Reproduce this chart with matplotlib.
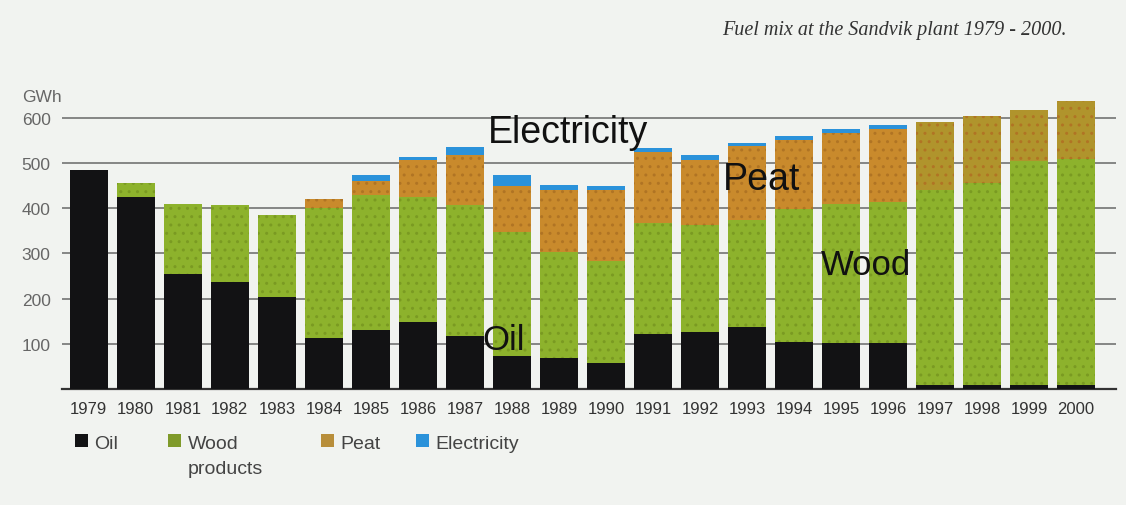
import matplotlib
matplotlib.use("Agg")
import matplotlib.pyplot as plt
from matplotlib.patches import Patch
import numpy as np

years = [str(y) for y in range(1979, 2001)]
oil = [484, 425, 255, 236, 204, 114, 131, 149, 118, 74, 69, 58,
       121, 126, 137, 105, 101, 102, 8, 8, 8, 8]
wood = [0, 30, 155, 172, 181, 286, 299, 277, 290, 274, 234, 225,
        246, 237, 238, 293, 309, 312, 432, 447, 497, 502]
peat = [0, 0, 0, 0, 0, 20, 30, 80, 109, 102, 138, 157,
        157, 144, 164, 153, 156, 162, 151, 150, 113, 127]
electricity = [0, 0, 0, 0, 0, 0, 14, 7, 19, 24, 11, 10,
               9, 10, 6, 9, 9, 9, 0, 0, 0, 0]
yticks = [100, 200, 300, 400, 500, 600]
legend_labels = ['Oil', 'Wood', 'Peat', 'Electricity']
title = "Fuel mix at the Sandvik plant 1979 - 2000."

SANS = ['Liberation Sans', 'DejaVu Sans']

bg = '#f1f3f0'
c_oil = '#121214'
c_wood = '#8db22c'
c_peat = '#c98a2c'
c_peat_late = '#b0942c'
c_elec = '#2b92da'

fig = plt.figure(figsize=(11.26, 5.06), dpi=100, facecolor=bg)
ax = fig.add_axes([62/1126, 1-390/506, 1054/1126, (650*0.4517)/506])
ax.set_facecolor(bg)

x = np.arange(len(years))
oil_a = np.array(oil); wood_a = np.array(wood); peat_a = np.array(peat); el_a = np.array(electricity)
w = 0.82
peat_colors = [c_peat if int(y) < 1997 else c_peat_late for y in years]

ax.bar(x, oil_a, w, color=c_oil, zorder=3)
ax.bar(x, wood_a, w, bottom=oil_a, color=c_wood, zorder=3,
       hatch='..', edgecolor='#7a9a22', linewidth=0)
ax.bar(x, peat_a, w, bottom=oil_a + wood_a, color=peat_colors, zorder=3,
       hatch='..', edgecolor='#b07424', linewidth=0)
ax.bar(x, el_a, w, bottom=oil_a + wood_a + peat_a, color=c_elec, zorder=3)

ax.set_xlim(-0.57, 21.85)
ax.set_ylim(0, 650)

ax.set_yticks(yticks)
ax.set_yticklabels([str(v) for v in yticks], family=SANS, fontsize=12.5, color='#666666')
for lab in ax.get_yticklabels():
    lab.set_horizontalalignment('left')
ax.tick_params(axis='y', length=0, pad=29)
ax.yaxis.grid(True, color='#555555', linewidth=1.3, alpha=0.75, zorder=0)
ax.set_axisbelow(True)

ax.set_xticks(x)
ax.set_xticklabels(years, family=SANS, fontsize=12, color='#333333')
ax.tick_params(axis='x', length=0, pad=9)

for s in ['top', 'right', 'left']:
    ax.spines[s].set_visible(False)
ax.spines['bottom'].set_color('#333333')
ax.spines['bottom'].set_linewidth(1.6)

# in-chart labels
ax.text(10.19, 569, 'Electricity', family=SANS, fontsize=27, color='#111111',
        ha='center', va='center', zorder=5)
ax.text(14.31, 466, 'Peat', family=SANS, fontsize=27, color='#111111',
        ha='center', va='center', zorder=5)
ax.text(16.53, 275, 'Wood', family=SANS, fontsize=25, color='#111111',
        ha='center', va='center', zorder=5)
ax.text(8.83, 110, 'Oil', family=SANS, fontsize=25, color='#111111',
        ha='center', va='center', zorder=5)

fig.text(22/1126, 1-98/506, 'GWh', family=SANS, fontsize=12.5, color='#666666',
         ha='left', va='center')
fig.text(1067/1126, 1-30/506, title, family=['Liberation Serif', 'DejaVu Serif'],
         style='italic', fontsize=14.5, color='#333333', ha='right', va='center')

# legend: one entry per legend so spacing follows the reference
leg_colors = [c_oil, '#7f9a2a', '#b88e3a', c_elec]
leg_x = [75, 168, 321, 416]
for lab, col, lx in zip(legend_labels, leg_colors, leg_x):
    lg = fig.legend([Patch(facecolor=col)], [lab], loc='center left',
                    bbox_to_anchor=(lx/1126, 1-444/506), frameon=False,
                    prop={'family': SANS, 'size': 14},
                    handlelength=0.65, handleheight=0.65, handletextpad=0.35,
                    borderaxespad=0, borderpad=0)
    for t in lg.get_texts():
        t.set_color('#444444')
    if lab == 'Wood':
        wood_leg = lg

fig.canvas.draw()
bb = wood_leg.get_texts()[0].get_window_extent()
fig.text(bb.x0/1126, 1-470/506, 'products', family=SANS, fontsize=14,
         color='#444444', ha='left', va='center')

fig.savefig('out.png', dpi=100, facecolor=bg)
